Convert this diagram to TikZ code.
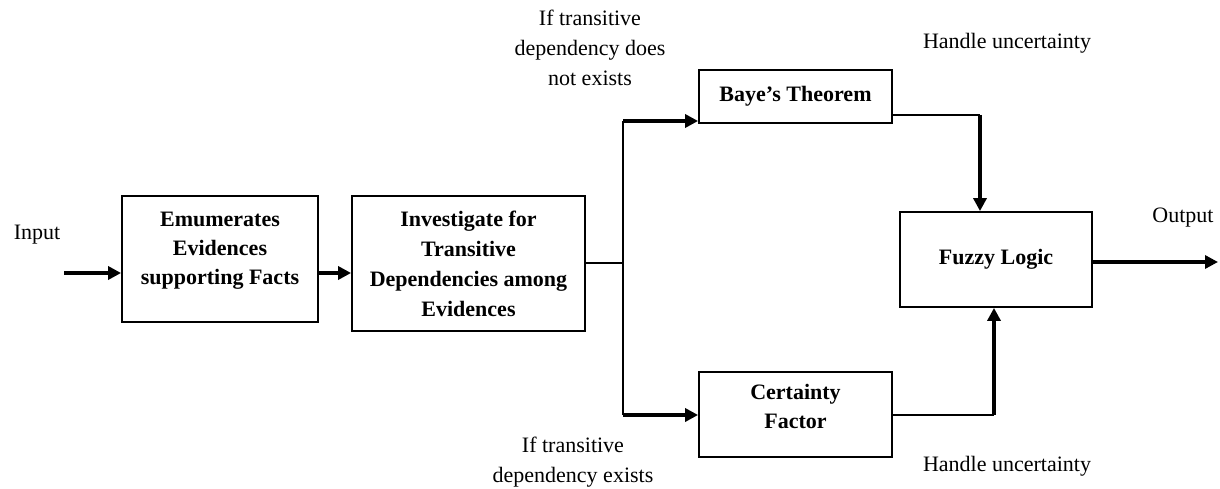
\documentclass[tikz,border=0pt]{standalone}
\usepackage{fontspec}
\setmainfont{Liberation Serif}
\usetikzlibrary{arrows.meta}
\begin{document}
\begin{tikzpicture}[x=1pt,y=-1pt,
  box/.style={draw, line width=1.8pt, align=center, inner sep=0pt,
    font=\fontsize{22}{30}\selectfont\bfseries},
  lbl/.style={align=center, inner sep=0pt, font=\fontsize{22}{30}\selectfont},
  thinln/.style={line width=1.8pt},
  vline/.style={line width=2.4pt},
  arr/.style={line width=3.6pt, -{Triangle[length=13pt,width=13pt]}},
  thk/.style={line width=3.6pt}]
\useasboundingbox (0,0) rectangle (1220,489);
% boxes
\node[box, minimum width=196pt, minimum height=126pt] (b1) at (220,259)
  {\raisebox{10pt}[\height][\depth]{\begin{tabular}{@{}c@{}}Emumerates\\[-1pt] Evidences\\[-1pt] supporting Facts\end{tabular}}};
\node[box, minimum width=233pt, minimum height=135pt] (b2) at (468.5,263.5)
  {Investigate for\\ Transitive\\ Dependencies among\\ Evidences};
\node[box, minimum width=193pt, minimum height=53pt] (bay) at (795.5,96.5) {Baye's Theorem};
\node[box, minimum width=193pt, minimum height=85pt] (cf) at (795.5,414.5)
  {\raisebox{7pt}[\height][\depth]{\begin{tabular}{@{}c@{}}Certainty\\[-1pt] Factor\end{tabular}}};
\node[box, minimum width=192pt, minimum height=95pt] (fz) at (996,259.5) {Fuzzy Logic};
% labels
\node[lbl] (inl) at (37,235) {Input};
\node[lbl] (l1) at (590,48) {If transitive\\ dependency does\\ not exists};
\node[lbl] (l2) at (573,462) {If transitive\\ dependency exists};
\node[lbl] (h1) at (1007,43) {Handle uncertainty};
\node[lbl] (h2) at (1007,466) {Handle uncertainty};
\node[lbl] (outl) at (1183,218) {Output};
% coordinates
\coordinate (in) at (64,273);
\coordinate (out) at (1218,262);
\coordinate (jt) at (623,121);
\coordinate (jm) at (623,263);
\coordinate (jb) at (623,415);
\coordinate (ct) at (980,115);
\coordinate (cb) at (994,415);
% connectors
\draw[arr] (in) -- (in -| b1.west);
\draw[arr] (b1.east |- in) -- (b2.west |- in);
\draw[thinln] (b2.east |- jm) -- (jm);
\draw[vline] (jt) -- (jb);
\draw[arr] (jt) -- (jt -| bay.west);
\draw[arr] (jb) -- (jb -| cf.west);
\draw[thinln] (bay.east |- ct) -- (ct);
\draw[arr] (ct) -- (ct |- fz.north);
\draw[thinln] (cf.east |- cb) -- (cb);
\draw[arr] (cb) -- (cb |- fz.south);
\draw[arr] (fz.east |- out) -- (out);
\end{tikzpicture}
\end{document}
